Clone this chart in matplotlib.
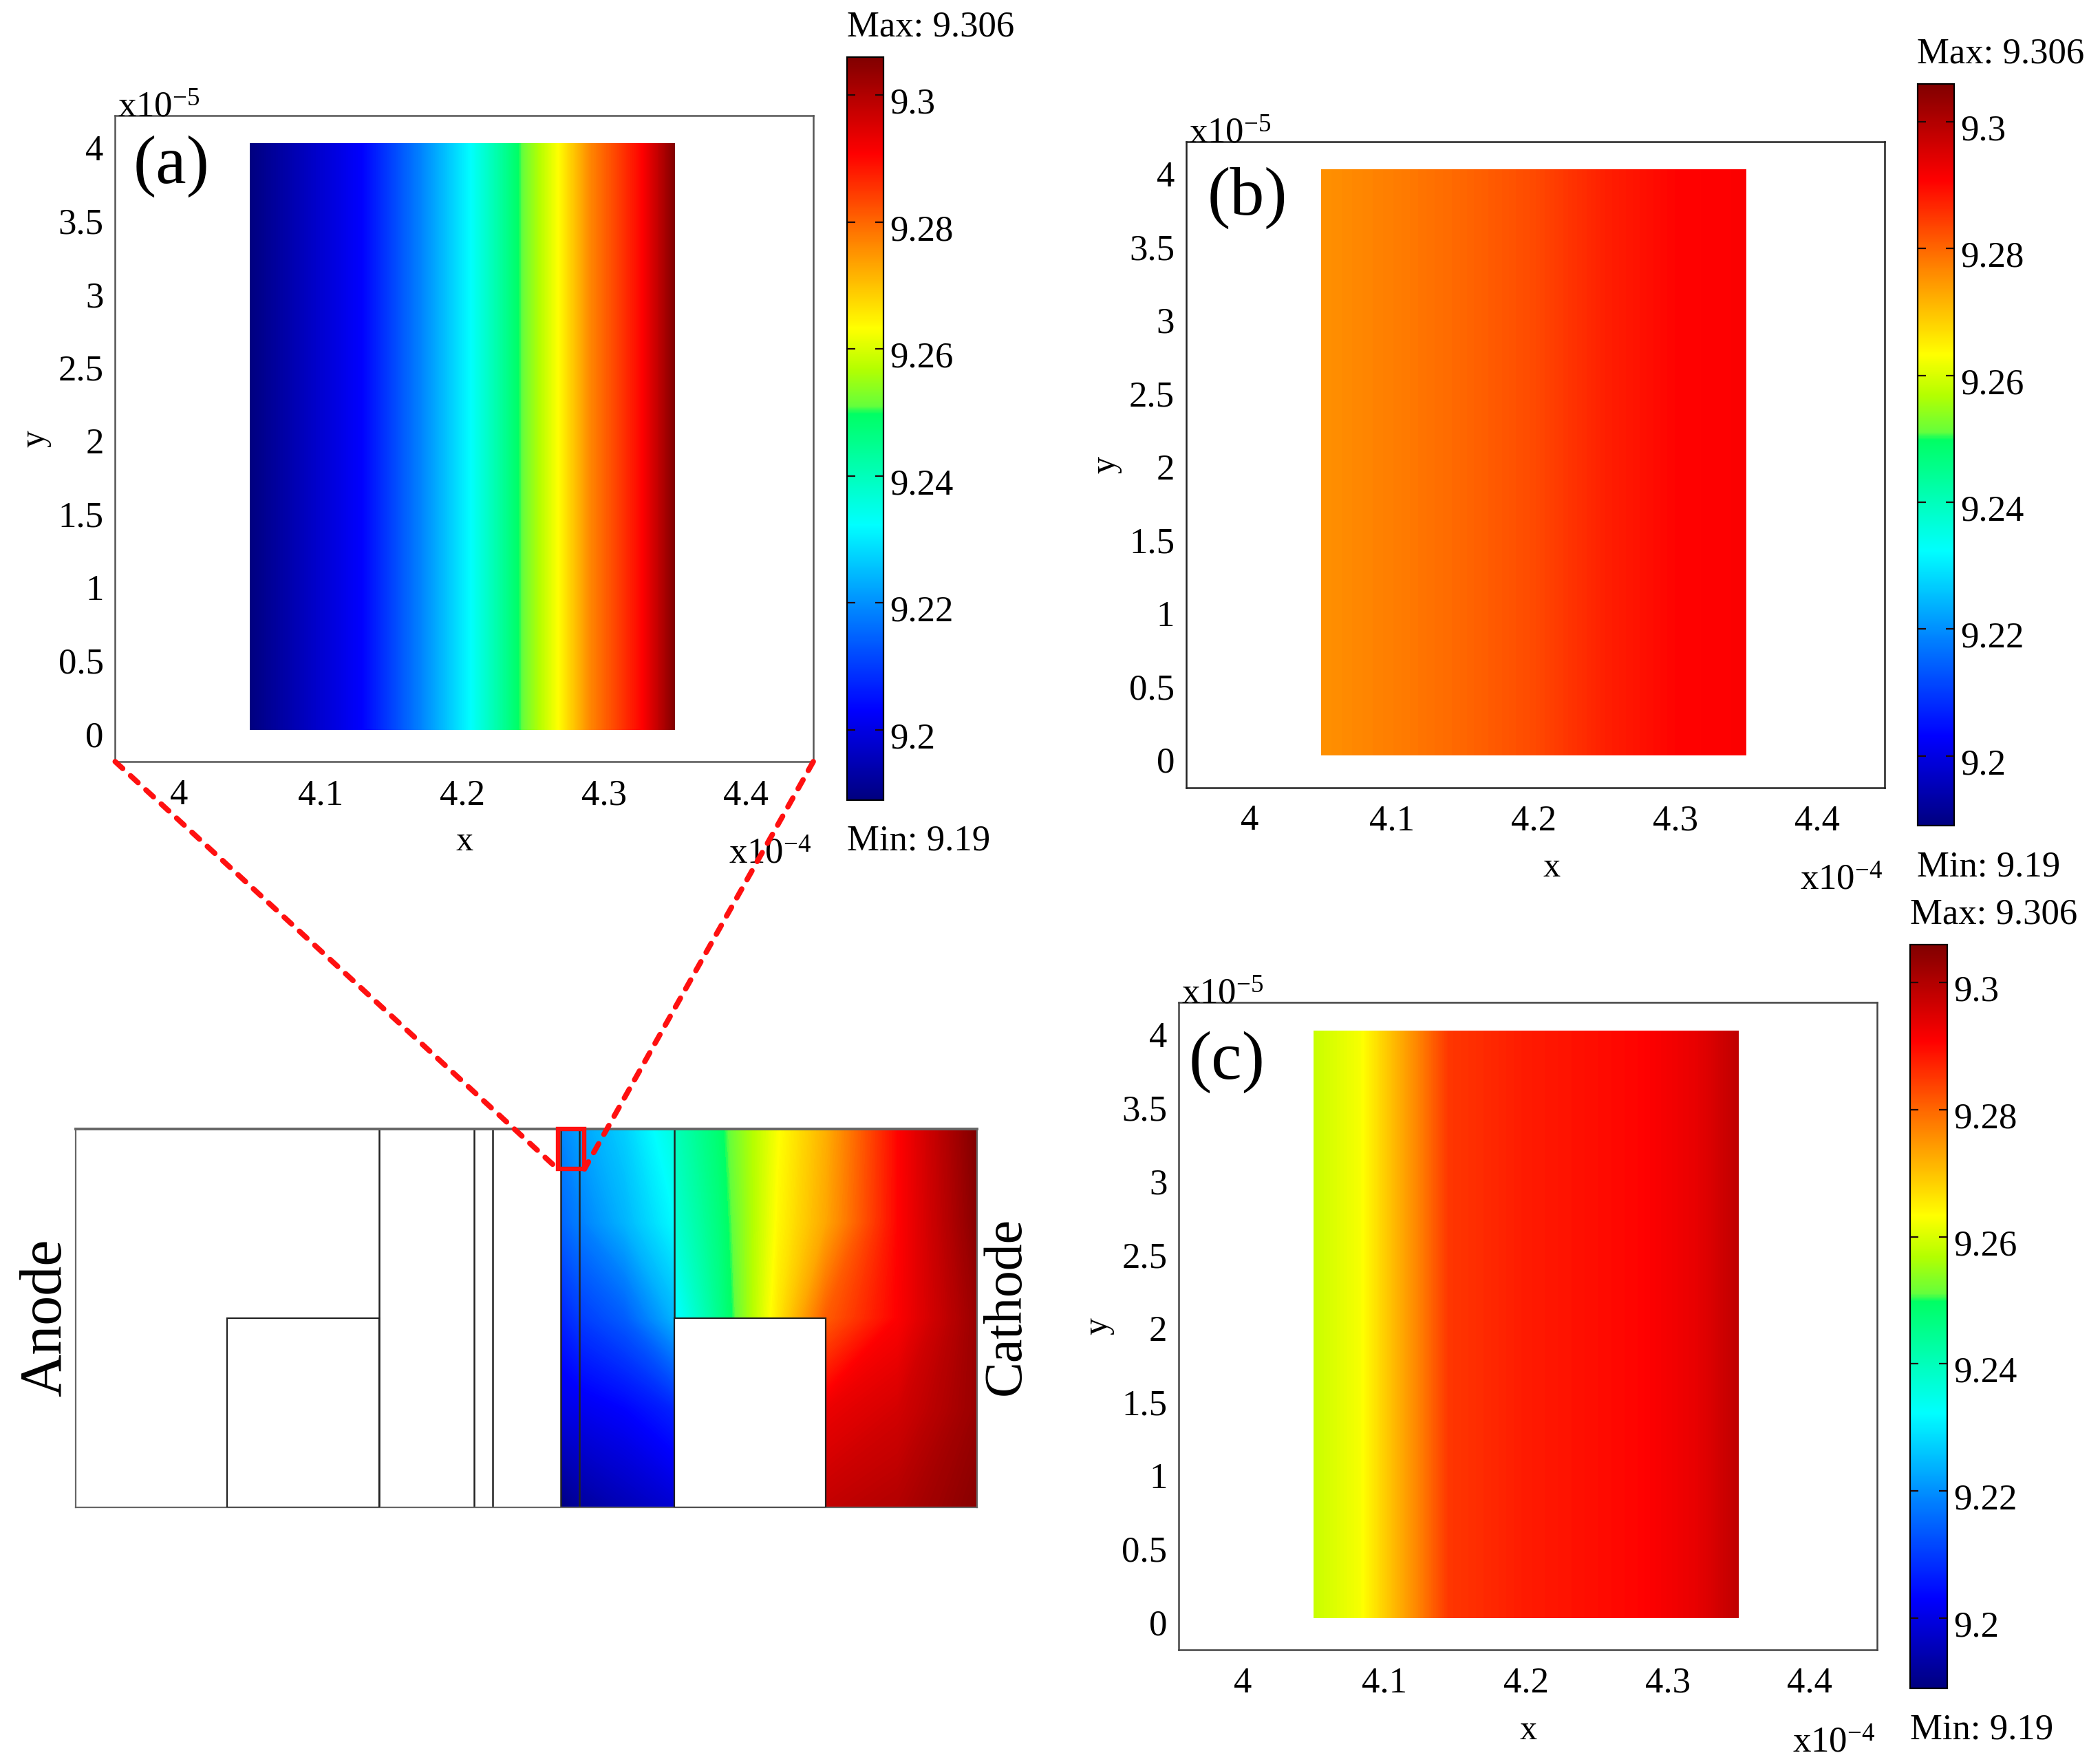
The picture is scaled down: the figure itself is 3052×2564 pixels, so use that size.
import numpy as np
import matplotlib
matplotlib.use('Agg')
import matplotlib.pyplot as plt
from matplotlib.colors import LinearSegmentedColormap, Normalize
from matplotlib.cm import ScalarMappable
from matplotlib.patches import Rectangle, ConnectionPatch
from matplotlib.transforms import ScaledTranslation

plt.rcParams['font.family'] = ['Liberation Serif', 'DejaVu Serif']
plt.rcParams['mathtext.fontset'] = 'custom'
plt.rcParams['mathtext.rm'] = 'Liberation Serif'
plt.rcParams['mathtext.default'] = 'rm'

W, H = 3052, 2564
DPI = 200

# scale shared by the colorbars
v_min, v_max = 9.189, 9.306
v_min_label, v_max_label = '9.19', '9.306'
cbar_ticks = [9.2, 9.22, 9.24, 9.26, 9.28, 9.3]
cbar_labels = ['9.2', '9.22', '9.24', '9.26', '9.28', '9.3']

x_ticks = [4.0, 4.1, 4.2, 4.3, 4.4]
x_labels = ['4', '4.1', '4.2', '4.3', '4.4']
y_ticks = [0, 0.5, 1, 1.5, 2, 2.5, 3, 3.5, 4]
y_labels = ['0', '0.5', '1', '1.5', '2', '2.5', '3', '3.5', '4']

# layer extent in the zoomed panels
layer_y = [0, 4]

# potential across the layer
a_x = [4.05, 4.129, 4.169, 4.205, 4.24, 4.267, 4.291, 4.327, 4.35]
a_v = [9.189, 9.203, 9.218, 9.232, 9.25, 9.263, 9.277, 9.2908, 9.306]
b_x = [4.05, 4.1, 4.15, 4.2, 4.25, 4.3, 4.35]
b_v = [9.2755, 9.2775, 9.28, 9.283, 9.2875, 9.2905, 9.2912]
c_x = [4.05, 4.0826, 4.124, 4.145, 4.2, 4.28, 4.32, 4.35]
c_v = [9.2585, 9.2625, 9.277, 9.285, 9.288, 9.2905, 9.2935, 9.2985]

# whole cell, lengths in the units of the lower axes
cell_w, cell_h = 6.732, 2.826
notch_h = 1.415
layer_edges = [2.266, 2.973, 3.114, 3.623, 3.762, 4.471]
left_notch = [1.13, 2.266]
right_notch = [4.471, 5.601]
zoom_box = [3.60, 3.80, 0.0, 0.30]

field_x = [3.623, 3.762, 4.1, 4.47, 4.472, 4.8, 5.25, 5.601, 6.14, 6.732]
field_y = [0.0, 0.7, 1.415, 2.1, 2.826]
field_v = [
    [9.219, 9.222, 9.227, 9.236, 9.240, 9.2485, 9.263, 9.272, 9.2905, 9.306],
    [9.215, 9.218, 9.224, 9.232, 9.237, 9.247, 9.264, 9.273, 9.2905, 9.305],
    [9.207, 9.210, 9.214, 9.224, 9.231, 9.245, 9.266, 9.281, 9.291, 9.303],
    [9.200, 9.201, 9.203, 9.207, 9.207, 9.245, 9.266, 9.293, 9.296, 9.303],
    [9.189, 9.192, 9.195, 9.198, 9.198, 9.245, 9.266, 9.298, 9.300, 9.305],
]

cmap = LinearSegmentedColormap.from_list('field', [
    (0.0, '#000080'), (0.12, '#0000ff'), (0.25, '#0080ff'), (0.37, '#00ffff'),
    (0.52, '#00ff64'), (0.53, '#64ff3c'), (0.58, '#b4ff00'), (0.635, '#ffff00'),
    (0.755, '#ff8000'), (0.87, '#ff0000'), (1.0, '#800000')], N=1024)
levels = np.linspace(v_min, v_max, 400)


def px_axes(fig, x0, y0, x1, y1):
    return fig.add_axes([x0 / W, 1 - y1 / H, (x1 - x0) / W, (y1 - y0) / H])


def nudge_labels(labels, fig, dy_px):
    shift = ScaledTranslation(0, -dy_px / DPI, fig.dpi_scale_trans)
    for t in labels:
        t.set_transform(t.get_transform() + shift)


def field(ax, xs, ys, z):
    ax.contourf(xs, ys, z, levels=levels, cmap=cmap, norm=Normalize(v_min, v_max), extend='both', antialiased=False)


def panel(fig, box, cbox, xs, vs, tag, tag_pos, xlabel_x, edge):
    ax = px_axes(fig, *box)
    field(ax, xs, layer_y, np.array([vs, vs]))
    ax.set_xlim(3.955, 4.4475)
    ax.set_ylim(-0.216, 4.19)
    ax.set_xticks(x_ticks, x_labels)
    ax.set_yticks(y_ticks, y_labels)
    ax.tick_params(length=0, labelsize=19)
    ax.tick_params(axis='x', pad=9)
    ax.tick_params(axis='y', pad=6)
    nudge_labels(ax.get_yticklabels(), fig, 6)
    for s in ax.spines.values():
        s.set_color(edge)
        s.set_linewidth(0.9)
    ax.set_xlabel('x', fontsize=18)
    ax.xaxis.set_label_coords(xlabel_x, -0.1)
    ax.set_ylabel('y', fontsize=18)
    ax.yaxis.set_label_coords(-0.092, 0.5)
    ax.text(0.004, 0.998, r'x10$^{-5}$', transform=ax.transAxes, fontsize=19, va='baseline', ha='left')
    ax.text(0.997, -0.158, r'x10$^{-4}$', transform=ax.transAxes, fontsize=19, va='baseline', ha='right')
    ax.text(tag_pos[0], tag_pos[1], tag, transform=ax.transAxes, fontsize=36, va='center', ha='left')

    cax = px_axes(fig, *cbox)
    cb = fig.colorbar(ScalarMappable(norm=Normalize(v_min, v_max), cmap=cmap), cax=cax)
    cb.set_ticks(cbar_ticks, labels=cbar_labels)
    cb.outline.set_linewidth(0.8)
    cax.tick_params(axis='y', direction='in', left=True, right=True, length=4.3, width=0.8,
                    labelsize=19, pad=3.5, color='#200808')
    nudge_labels(cax.get_yticklabels(), fig, 8)
    cax.text(0, 1.04, 'Max: ' + v_max_label, transform=cax.transAxes, fontsize=19, va='center', ha='left')
    cax.text(0, -0.056, 'Min: ' + v_min_label, transform=cax.transAxes, fontsize=19, va='center', ha='left')
    return ax


fig = plt.figure(figsize=(W / DPI, H / DPI), dpi=DPI, facecolor='white')

ax_a = panel(fig, (167.4, 168, 1182, 1107), (1230.6, 83, 1284, 1162.5), a_x, a_v,
             '(a)', (0.026, 0.921), 0.5, '#555555')
panel(fig, (1723.7, 205.7, 2739, 1144.5), (2786.5, 121.6, 2840, 1200), b_x, b_v,
      '(b)', (0.030, 0.913), 0.523, '#222222')
panel(fig, (1713, 1457, 2728.4, 2398), (2776, 1372.5, 2830, 2453.6), c_x, c_v,
      '(c)', (0.014, 0.908), 0.5, '#444444')

# lower drawing of the whole cell
ax_d = px_axes(fig, 110, 1640.7, 1420, 2190.6)
field(ax_d, field_x, field_y, np.array(field_v))
ax_d.set_xlim(0, cell_w)
ax_d.set_ylim(cell_h, 0)
ax_d.set_xticks([])
ax_d.set_yticks([])
for s in ax_d.spines.values():
    s.set_color('#666666')
    s.set_linewidth(0.8)
ax_d.spines['top'].set_linewidth(1.4)

for nx in (left_notch, right_notch):
    ax_d.add_patch(Rectangle((nx[0], notch_h), nx[1] - nx[0], cell_h - notch_h, facecolor='white',
                             edgecolor='#222222', linewidth=0.8, zorder=3))
ax_d.vlines(layer_edges, 0, cell_h, color='#222222', linewidth=0.9, zorder=2.5)
ax_d.add_patch(Rectangle((zoom_box[0], zoom_box[2]), zoom_box[1] - zoom_box[0], zoom_box[3] - zoom_box[2],
                         fill=False, edgecolor='#ff1010', linewidth=2.3, zorder=5, clip_on=False))
ax_d.text(-0.22, 1.41, 'Anode', rotation=90, fontsize=31, ha='center', va='center', clip_on=False)
ax_d.text(cell_w + 0.22, 1.325, 'Cathode', rotation=90, fontsize=28, ha='center', va='center', clip_on=False)

# dashed guides from panel (a) down to the box
for corner, bx in (((0, 0), zoom_box[0]), ((1, 0), zoom_box[1])):
    fig.add_artist(ConnectionPatch(corner, (bx, zoom_box[3]), coordsA=ax_a.transAxes, coordsB=ax_d.transData,
                                   color='#ff1010', linewidth=2.8, linestyle=(0, (1.9, 2.0)),
                                   capstyle='round', zorder=6))

fig.savefig('out.png', dpi=DPI)
